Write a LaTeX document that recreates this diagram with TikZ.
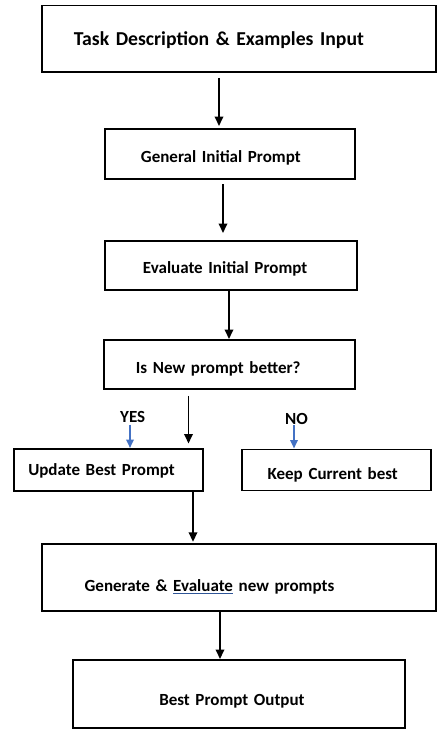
\documentclass[tikz,border=0pt]{standalone}
\usepackage{fontspec}
\setmainfont{Carlito}
\usetikzlibrary{arrows.meta}
\definecolor{arrowblue}{RGB}{68,114,196}
\definecolor{ulblue}{RGB}{47,85,151}
\newcommand\spellul[1]{\setbox0\hbox{#1}\rlap{\textcolor{ulblue}{\rule[-1.8pt]{\wd0}{0.8pt}}}\box0\relax}
\begin{document}
\begin{tikzpicture}[x=1pt,y=-1pt,
  box/.style={draw, line width=1.9pt, rectangle, anchor=north west, inner ysep=0pt,
    align=left, text depth=0pt, font=\bfseries\fontsize{17}{20}\selectfont},
  lbl/.style={inner sep=0pt, anchor=base west, font=\bfseries\fontsize{17}{20}\selectfont},
  arr/.style={line width=1.8pt, -{Triangle[width=8.5pt,length=9.5pt]}},
  barr/.style={draw=arrowblue, line width=2.2pt, -{Triangle[width=7.5pt,length=8.5pt]}, arrowblue}]
\useasboundingbox (0,0) rectangle (444,737);
\node[box, minimum width=394pt, minimum height=66.5pt, inner xsep=32pt, text width=330pt,
  text height=14.4pt, font=\bfseries\fontsize{19.7}{24}\selectfont] (b1) at (41,4.5) {Task Description \& Examples Input};
\node[box, minimum width=250pt, minimum height=50pt, inner xsep=36pt, text width=178pt,
  text height=16.7pt] (b2) at (104,128) {General Initial Prompt};
\node[box, minimum width=252pt, minimum height=49pt, inner xsep=38pt, text width=176pt,
  text height=15.7pt] (b3) at (104,240) {Evaluate Initial Prompt};
\node[box, minimum width=251pt, minimum height=49pt, inner xsep=32pt, text width=187pt,
  text height=18.7pt] (b4) at (103,339) {Is New prompt better?};
\node[box, minimum width=189pt, minimum height=42pt, inner xsep=14pt, text width=161pt,
  text height=11.7pt] (b5) at (13.3,448) {Update Best Prompt};
\node[box, minimum width=189.3pt, minimum height=41pt, inner xsep=26pt, text width=137.3pt,
  text height=18.7pt] (b6) at (240.7,448.5) {Keep Current best};
\node[box, minimum width=394.3pt, minimum height=66.7pt, inner xsep=43pt, text width=308.3pt,
  text height=28.7pt] (b7) at (40.7,543.3) {Generate \& \spellul{Evaluate} new prompts};
\node[box, minimum width=332pt, minimum height=67.7pt, inner xsep=86pt, text width=160pt,
  text height=22.7pt] (b8) at (72.3,659) {Best Prompt Output};
\node[lbl] (yes) at (120,422.7) {YES};
\node[lbl] (no) at (285,424.3) {NO};
\draw[arr, shorten <=5pt, shorten >=2pt] (219,0 |- b1.south) -- (219,0 |- b2.north);
\draw[arr, shorten <=4.5pt, shorten >=7pt] (223,0 |- b2.south) -- (223,0 |- b3.north);
\draw[arr] (229,0 |- b3.south) -- (229,0 |- b4.north);
\draw[arr, shorten <=6pt, shorten >=4.5pt] (188.5,0 |- b4.south) -- (188.5,0 |- b5.north);
\draw[arr, shorten >=1.5pt] (193,0 |- b5.south) -- (193,0 |- b7.north);
\draw[arr] (220,0 |- b7.south) -- (220,0 |- b8.north);
\draw[barr, shorten <=1.5pt] (130,0 |- yes.south) -- (130,0 |- b5.north);
\draw[barr, shorten <=0.7pt] (294,0 |- no.south) -- (294,0 |- b6.north);
\end{tikzpicture}
\end{document}
